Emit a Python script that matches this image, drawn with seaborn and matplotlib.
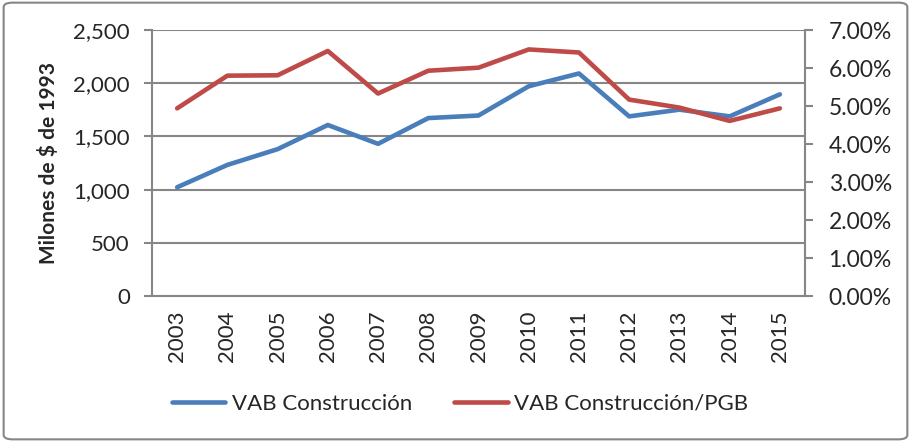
import numpy as np
import pandas as pd
import matplotlib
matplotlib.use('Agg')
import matplotlib.pyplot as plt
from matplotlib.patches import FancyBboxPatch
from matplotlib.ticker import FuncFormatter, MultipleLocator, FixedLocator
import seaborn as sns

# Datos
anios = ['2003', '2004', '2005', '2006', '2007', '2008', '2009',
         '2010', '2011', '2012', '2013', '2014', '2015']
vab_construccion = [1023, 1233, 1381, 1608, 1431, 1673, 1697,
                    1972, 2092, 1689, 1752, 1689, 1896]
vab_pgb = [4.94, 5.80, 5.81, 6.45, 5.33, 5.93, 6.01,
           6.49, 6.41, 5.17, 4.96, 4.61, 4.94]  # en %

AZUL = '#4A7EBB'
ROJO = '#BE4B48'
GRIS = '#868686'

sns.set_style('white')
plt.rcParams['font.family'] = ['Lato', 'DejaVu Sans']

df = pd.DataFrame({'x': np.arange(len(anios)),
                   'vab': vab_construccion,
                   'pgb': np.array(vab_pgb) / 100})

fig = plt.figure(figsize=(9.11, 4.42), dpi=100)
ax = fig.add_axes([0.1669, 0.330, 0.7167, 0.602])
ax2 = ax.twinx()

sns.lineplot(data=df, x='x', y='vab', ax=ax, color=AZUL, linewidth=3.3,
             label='VAB Construcción', legend=False)
sns.lineplot(data=df, x='x', y='pgb', ax=ax2, color=ROJO, linewidth=3.3,
             label='VAB Construcción/PGB', legend=False)

ax.set_xlim(-0.5, len(anios) - 0.5)
ax.set_ylim(0, 2500)
ax2.set_ylim(0, 0.07)

# eje izquierdo
ax.yaxis.set_major_locator(MultipleLocator(500))
ax.yaxis.set_major_formatter(FuncFormatter(lambda v, p: f'{int(v):,}'))
ax.grid(axis='y', color=GRIS, linewidth=1.5)
ax.set_axisbelow(True)

# eje derecho
ax2.yaxis.set_major_locator(MultipleLocator(0.01))
ax2.yaxis.set_major_formatter(FuncFormatter(lambda v, p: f'{v*100:.2f}%'))

# eje x: marcas entre categorias, etiquetas centradas
ax.xaxis.set_major_locator(FixedLocator(np.arange(-0.5, len(anios), 1)))
ax.xaxis.set_major_formatter(FuncFormatter(lambda v, p: ''))
ax.xaxis.set_minor_locator(FixedLocator(np.arange(len(anios))))
ax.set_xticklabels(anios, minor=True, rotation=90)
ax.tick_params(axis='x', which='minor', length=0, pad=10, labelsize=16)
ax.tick_params(axis='x', which='major', length=6, width=1.5, color=GRIS,
               direction='out')
ax.tick_params(axis='y', length=6, width=1.5, color=GRIS, direction='out',
               labelsize=16, pad=10)
ax2.tick_params(axis='y', length=6, width=1.5, color=GRIS, direction='out',
                labelsize=16.5, pad=11)

for a in (ax, ax2):
    for s in a.spines.values():
        s.set_visible(False)
ax.spines['left'].set_visible(True)
ax.spines['bottom'].set_visible(True)
ax2.spines['right'].set_visible(True)
for s in (ax.spines['left'], ax.spines['bottom'], ax2.spines['right']):
    s.set_color(GRIS)
    s.set_linewidth(1.5)

ax.set_xlabel('')
ax.set_ylabel('Milones de $ de 1993', fontsize=15, fontweight='bold',
              labelpad=10)
ax2.set_ylabel('')

# leyenda abajo
h1, l1 = ax.get_legend_handles_labels()
h2, l2 = ax2.get_legend_handles_labels()
fig.legend(h1 + h2, l1 + l2, loc='center', bbox_to_anchor=(0.505, 0.086),
           ncol=2, frameon=False, fontsize=16, handlelength=2.4,
           columnspacing=1.9, handletextpad=0.3)

# borde del grafico
fig.patches.append(FancyBboxPatch((0.004, 0.006), 0.992, 0.988,
                                  boxstyle='round,pad=0,rounding_size=0.01',
                                  transform=fig.transFigure, fill=False,
                                  edgecolor=GRIS, linewidth=1.5))

fig.savefig('out.png', dpi=100)
